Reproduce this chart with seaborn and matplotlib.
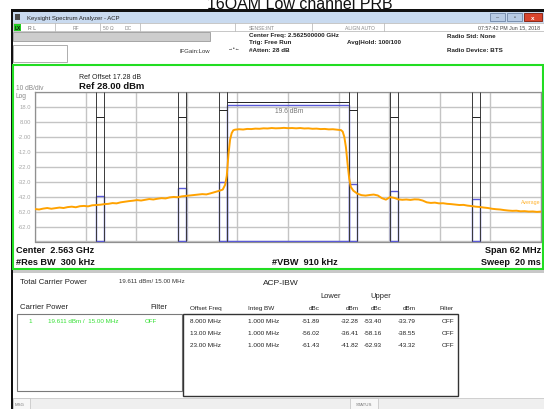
## Librerías
import numpy as np
import pandas as pd
import matplotlib
matplotlib.use("Agg")
import matplotlib.pyplot as plt
import seaborn as sns
from matplotlib.patches import Rectangle

## Datos

chart_title = "16QAM Low channel PRB"

# Traza (MHz respecto al centro, dBm)
trace_freq = [-31.0, -30.5, -30.0, -29.5, -29.0, -28.5, -28.0, -27.5, -27.0, -26.5,
              -26.0, -25.5, -25.0, -24.5, -24.0, -23.5, -23.0, -22.5, -22.0, -21.5,
              -21.0, -20.5, -20.0, -19.5, -19.0, -18.5, -18.0, -17.5, -17.0, -16.5,
              -16.0, -15.5, -15.0, -14.5, -14.0, -13.5, -13.0, -12.5, -12.0, -11.5,
              -11.0, -10.5, -10.0, -9.5, -9.0, -8.5, -8.0, -7.7, -7.5, -7.3,
              -7.1, -6.9, -6.7, -6.5, -6.0, -5.5, -5.0, -4.5, -4.0, -3.5,
              -3.0, -2.5, -2.0, -1.5, -1.0, -0.5, 0.0, 0.5, 1.0, 1.5,
              2.0, 2.5, 3.0, 3.5, 4.0, 4.5, 5.0, 5.5, 6.0, 6.5,
              6.7, 6.9, 7.1, 7.3, 7.5, 7.7, 8.0, 8.5, 9.0, 9.5,
              10.0, 10.5, 11.0, 11.5, 12.0, 12.5, 13.0, 13.5, 14.0, 14.5,
              15.0, 15.5, 16.0, 16.5, 17.0, 17.5, 18.0, 18.5, 19.0, 19.5,
              20.0, 20.5, 21.0, 21.5, 22.0, 22.5, 23.0, 23.5, 24.0, 24.5,
              25.0, 25.5, 26.0, 26.5, 27.0, 27.5, 28.0, 28.5, 29.0, 29.5,
              30.0, 30.5, 31.0]
trace_dbm = [-50.3, -50.6, -50.0, -49.6, -50.1, -49.7, -49.3, -49.6, -49.0, -48.7,
             -49.1, -48.4, -48.2, -48.5, -47.8, -47.6, -47.4, -47.0, -46.8, -46.3,
             -46.5, -45.8, -45.4, -45.0, -44.7, -44.3, -44.6, -44.1, -43.6, -43.9,
             -43.4, -43.0, -43.2, -42.5, -42.2, -42.4, -41.8, -41.5, -41.2, -40.9,
             -40.6, -40.3, -40.5, -39.8, -39.0, -38.2, -37.3, -34.0, -28.0, -14.0,
             -4.0, 0.5, 2.4, 2.8, 3.1, 2.9, 3.3, 3.2, 3.5, 3.4,
             3.7, 3.6, 3.9, 3.7, 3.8, 4.0, 3.8, 3.9, 3.7, 3.9,
             3.6, 3.7, 3.4, 3.5, 3.2, 3.3, 3.0, 3.1, 2.8, 2.5,
             1.5, -2.0, -9.0, -20.0, -30.0, -35.5, -38.0, -40.0, -41.0, -41.3,
             -40.9, -40.6, -41.2, -43.0, -44.0, -42.3, -42.8, -43.8, -44.1, -43.9,
             -44.2, -43.8, -43.9, -44.6, -45.8, -46.2, -46.0, -46.5, -46.4, -46.8,
             -47.0, -47.3, -47.6, -47.5, -48.0, -48.3, -48.7, -48.9, -49.3, -49.6,
             -50.1, -50.4, -50.6, -51.0, -51.3, -51.5, -51.4, -51.8, -51.7, -52.0,
             -51.9, -52.2, -52.0]

# Resultados ACP-IBW
carrier_power = 19.611
carrier_bw = 15.0
offset_freq = [8.0, 13.0, 23.0]
offset_label = ["8.000 MHz", "13.00 MHz", "23.00 MHz"]
integ_bw = 1.0
lower_dbc = [-51.89, -56.02, -61.43]
lower_dbm = [-32.28, -36.41, -41.82]
upper_dbc = [-53.40, -58.16, -62.93]
upper_dbm = [-33.79, -38.55, -43.32]

# Escala
ref_level = 28.0
ref_offset = 17.28
db_per_div = 10
span = 62.0
y_tick_labels = ["18.0", "8.00", "-2.00", "-12.0", "-22.0", "-32.0", "-42.0", "-52.0", "-62.0"]

## Estilo

sns.set_theme(style="white")
plt.rcParams["font.family"] = ["Liberation Sans", "DejaVu Sans"]

orange = "#ffa200"
blue = "#5a5ad8"
green_txt = "#33e033"

W, H = 544, 410
fig = plt.figure(figsize=(W / 100, H / 100), dpi=100)

# Capa de fondo en píxeles (y hacia abajo)
bg = fig.add_axes([0, 0, 1, 1], zorder=0)
bg.set_xlim(0, W)
bg.set_ylim(H, 0)
bg.axis("off")


def box(x0, y0, x1, y1, fc="none", ec="none", lw=0.7, z=1):
    bg.add_patch(Rectangle((x0, y0), x1 - x0, y1 - y0, facecolor=fc, edgecolor=ec, lw=lw, zorder=z))


def txt(x, y, s, size=4.5, color="#222222", weight="normal", ha="left"):
    bg.text(x, y, s, fontsize=size, color=color, fontweight=weight, ha=ha, va="center")


# Título (cortado arriba)
bg.text(300, 8.5, chart_title, fontsize=11.5, ha="center", va="baseline", color="#111111")

# Marco de la ventana
box(12, 10, W + 2, 12.5, fc="#111111")
box(10.5, 10, 13, H + 2, fc="#111111")

# Barra de título
box(13, 12.5, W, 24, fc="#c9daef", z=1)
box(14.5, 15, 20, 21, fc="#4a4a4a", z=2)
txt(27, 18.3, "Keysight Spectrum Analyzer - ACP", size=4.3, color="#222222")
box(490, 14, 505, 22, fc="#b8cbe4", ec="#7a90b0", z=2)
box(507, 14, 522, 22, fc="#b8cbe4", ec="#7a90b0", z=2)
box(524, 14, 542, 22, fc="#d9452e", ec="#8a2a1a", z=2)
txt(497.5, 18, "–", size=4, color="#444444", ha="center")
txt(514.5, 18, "▫", size=4, color="#444444", ha="center")
txt(533, 18, "x", size=4.5, color="white", ha="center", weight="bold")

# Fila de estado
box(13, 24, W, 32, fc="white", ec="#b0b0b0", lw=0.5)
box(13.5, 24.5, 21, 31.5, fc="#22cc22", z=2)
txt(14.5, 28.2, "LX", size=3.5, color="#111111", weight="bold")
for sx in [55, 100, 140, 235, 312, 384]:
    bg.vlines(sx, 24, 32, color="#b0b0b0", lw=0.5)
txt(28, 28.2, "R L", size=3.8, color="#666666")
txt(73, 28.2, "RF", size=3.6, color="#888888")
txt(103, 28.2, "50 Ω", size=3.6, color="#888888")
txt(125, 28.2, "DC", size=3.6, color="#888888")
txt(249, 28.2, "SENSE:INT", size=3.6, color="#888888")
txt(345, 28.2, "ALIGN AUTO", size=3.6, color="#888888")
txt(540, 28.2, "07:57:42 PM Jun 15, 2018", size=3.8, color="#444444", ha="right")

# Cabecera de parámetros
box(13, 33, 210, 42, fc="#cdcdcd", ec="#9a9a9a", lw=0.6)
txt(249, 35.5, "Center Freq: 2.562500000 GHz", size=4.5, weight="bold")
txt(249, 42.5, "Trig: Free Run", size=4.5, weight="bold")
txt(347, 42.5, "Avg|Hold: 100/100", size=4.5, weight="bold")
txt(249, 50, "#Atten: 28 dB", size=4.5, weight="bold")
txt(180, 51.5, "IFGain:Low", size=4.3, color="#333333")
txt(228, 49, "→•←", size=3.5, color="#333333")
txt(447, 36, "Radio Std: None", size=4.5, weight="bold")
txt(447, 50, "Radio Device: BTS", size=4.5, weight="bold")
box(13, 46, 67, 63, fc="white", ec="#a0a0a0", lw=0.6)

# Panel gráfico con borde verde
box(13, 65.5, 542.5, 269.5, fc="white", ec="#22dd22", lw=1.5, z=1)
txt(79, 77.5, f"Ref Offset {ref_offset:.2f} dB", size=5, color="#222222")
txt(79, 86.5, f"Ref {ref_level:.2f} dBm", size=6.8, color="#111111", weight="bold")
txt(16, 88, f"{db_per_div} dB/div", size=4.8, color="#8a8a8a")
txt(16, 96.5, "Log", size=4.8, color="#8a8a8a")
txt(16, 251, "Center  2.563 GHz", size=6.6, weight="bold", color="#111111")
txt(16, 263, "#Res BW  300 kHz", size=6.6, weight="bold", color="#111111")
txt(272, 263, "#VBW  910 kHz", size=6.6, weight="bold", color="#111111")
txt(541, 251, f"Span {span:.0f} MHz", size=6.6, weight="bold", color="#111111", ha="right")
txt(541, 263, "Sweep  20 ms", size=6.6, weight="bold", color="#111111", ha="right")

# Separador y panel de resultados
box(13, 270.5, W, 273.5, fc="#c8c8c8")
txt(20, 283, "Total Carrier Power", size=5.6)
txt(119, 282, f"{carrier_power:.3f} dBm/ {carrier_bw:.2f} MHz", size=4.4, color="#333333")
txt(263, 284, "ACP-IBW", size=6.0)
txt(20, 308, "Carrier Power", size=5.6)
txt(150, 308, "Filter", size=5.4)
box(17, 315, 182, 392, ec="#7a7a7a", lw=0.8)
txt(28, 322, "1", size=4.5, color=green_txt)
txt(48, 322, f"{carrier_power:.3f} dBm /  {carrier_bw:.2f} MHz", size=4.5, color=green_txt)
txt(145, 322, "OFF", size=4.5, color=green_txt)

txt(331, 297, "Lower", size=5.4, ha="center")
txt(381, 297, "Upper", size=5.4, ha="center")
txt(190, 309, "Offset Freq", size=4.6)
txt(248, 309, "Integ BW", size=4.6)
for hx, h in zip([320, 359, 382, 416, 454], ["dBc", "dBm", "dBc", "dBm", "Filter"]):
    txt(hx, 309, h, size=4.6, ha="right")
box(183, 315, 458, 397, ec="#333333", lw=1.0)
for i in range(len(offset_freq)):
    ry = 322 + 12 * i
    txt(190, ry, offset_label[i], size=4.6)
    txt(248, ry, f"{integ_bw:.3f} MHz", size=4.6)
    txt(320, ry, f"{lower_dbc[i]:.2f}", size=4.6, ha="right")
    txt(359, ry, f"{lower_dbm[i]:.2f}", size=4.6, ha="right")
    txt(382, ry, f"{upper_dbc[i]:.2f}", size=4.6, ha="right")
    txt(416, ry, f"{upper_dbm[i]:.2f}", size=4.6, ha="right")
    txt(454, ry, "OFF", size=4.6, ha="right")

# Barra inferior
box(13, 399, W, H, fc="#efefef", ec="#c0c0c0", lw=0.5)
box(13, 399, 30, H, fc="#f7f7f7", ec="#c0c0c0", lw=0.5)
txt(14.5, 405.5, "MSG", size=3.2, color="#777777")
box(350, 399, 378, H, fc="#f7f7f7", ec="#c0c0c0", lw=0.5)
txt(364, 405.5, "STATUS", size=3.2, color="#777777", ha="center")

## Gráfico del espectro

ax = fig.add_axes([35 / W, 1 - 242.5 / H, 506 / W, 149.5 / H], zorder=2)
bottom = ref_level - 10 * db_per_div
ax.set_xlim(-span / 2, span / 2)
ax.set_ylim(bottom, ref_level)

ax.set_xticks(np.linspace(-span / 2, span / 2, 11))
ax.set_yticks(np.linspace(bottom, ref_level, 11))
ax.grid(True, color="#c4c4c4", lw=1.0)
ax.tick_params(length=0, labelbottom=False, labelleft=False)
for sp in ax.spines.values():
    sp.set_color("#909090")
    sp.set_linewidth(0.9)
ax.set_xlabel("")
ax.set_ylabel("")

# Etiquetas del eje Y
for k, lab in enumerate(y_tick_labels):
    ax.text(-span / 2 - 0.45, ref_level - (k + 1) * db_per_div, lab, fontsize=4.2,
            color="#a8a8a8", ha="right", va="center", clip_on=False)

# Bandas de integración
band_center = [-o for o in reversed(offset_freq)] + offset_freq
band_power = list(reversed(lower_dbm)) + upper_dbm
ax.bar(band_center, [p - bottom for p in band_power], bottom=bottom, width=integ_bw,
       fill=False, edgecolor=blue, lw=1.0, zorder=3)
ax.bar([0.0], [round(carrier_power, 1) - bottom], bottom=bottom, width=carrier_bw,
       fill=False, edgecolor=blue, lw=1.0, zorder=3)

edges = [c - integ_bw / 2 for c in band_center] + [c + integ_bw / 2 for c in band_center]
edges += [-carrier_bw / 2, carrier_bw / 2]
ax.vlines(edges, bottom, ref_level, color="#3a3a3a", lw=0.7, zorder=4)

bracket_level = {8.0: 16.2, 13.0: 11.3, 23.0: 11.3}
for c in band_center:
    lvl = bracket_level[abs(c)]
    ax.hlines(lvl, c - integ_bw / 2, c + integ_bw / 2, color="#222222", lw=0.7, zorder=4)
ax.hlines(21.1, -carrier_bw / 2, carrier_bw / 2, color="#222222", lw=0.7, zorder=4)
ax.text(0.2, 15.3, f"{round(carrier_power, 1)} dBm", fontsize=4.8, color="#777777",
        ha="center", va="center", zorder=5)

# Traza
df = pd.DataFrame({"freq": trace_freq, "dbm": trace_dbm})
sns.lineplot(data=df, x="freq", y="dbm", ax=ax, color=orange, lw=1.4, sort=False,
             estimator=None, zorder=5)
ax.set_xlabel("")
ax.set_ylabel("")
ax.text(28.6, -45.5, "Average", fontsize=3.8, color=orange, alpha=0.8,
        ha="left", va="center", clip_on=True, zorder=5)

fig.savefig("out.png", dpi=100)
